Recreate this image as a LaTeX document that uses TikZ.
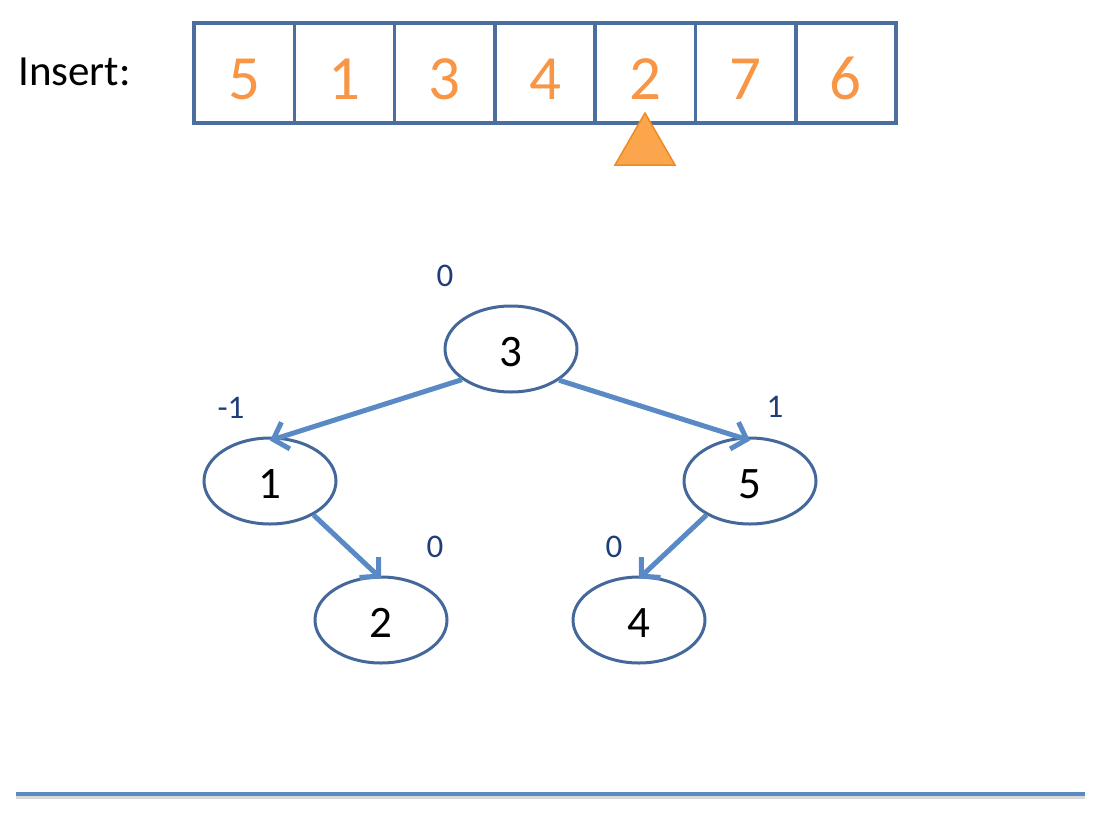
\documentclass[tikz,border=0pt]{standalone}
\usepackage{fontspec}
\setmainfont{Carlito}
\usetikzlibrary{arrows.meta,shapes.geometric}
\definecolor{boxblue}{HTML}{4A6E9E}
\definecolor{nodeblue}{HTML}{45689A}
\definecolor{edgeblue}{HTML}{5A8AC6}
\definecolor{numorange}{HTML}{F79646}
\definecolor{trifill}{HTML}{FBA54C}
\definecolor{triline}{HTML}{EE8A22}
\definecolor{balblue}{HTML}{1F3E79}
\begin{document}
\begin{tikzpicture}[x=1pt,y=-1pt,
  cell/.style={draw=boxblue,line width=3.5pt,minimum width=100.3pt,minimum height=100pt,inner sep=0pt,
    text=numorange,font=\fontsize{63}{63}\selectfont,text height=52pt,text depth=0pt},
  tnode/.style={draw=nodeblue,line width=3pt,ellipse,minimum width=132pt,minimum height=86pt,inner sep=0pt,
    font=\fontsize{45}{45}\selectfont,text height=34pt,text depth=0pt},
  bal/.style={text=balblue,font=\fontsize{33}{33}\selectfont,inner sep=0pt},
  edge/.style={draw=edgeblue,line width=5pt,-{Straight Barb[length=13pt,width=28pt,line width=5pt]}}
]
\useasboundingbox (0,0) rectangle (1119,828);
\node[font=\fontsize{43}{43}\selectfont,anchor=base west,inner sep=0pt] (ins) at (18,85) {Insert:};
\foreach \v [count=\i] in {5,1,3,4,2,7,6} {
  \node[cell] (c\i) at ({194+100.3*(\i-0.5)},73) {\v};
}
\draw[fill=trifill,draw=triline,line width=1.5pt,line join=miter] (645,113) -- (675,165) -- (615,165) -- cycle;

\node[tnode] (n3) at (511,349) {3};
\node[tnode] (n1) at (270,481) {1};
\node[tnode] (n5) at (750,481) {5};
\node[tnode] (n2) at (381,620) {2};
\node[tnode] (n4) at (639,620) {4};

\node[bal] (b3) at (445,276) {0};
\node[bal] (b1) at (231,408) {-1};
\node[bal] (b5) at (775,407) {1};
\node[bal] (b2) at (435,547) {0};
\node[bal] (b4) at (614,547) {0};

\draw[edge] (n3.212) -- ([yshift=-4pt]n1.north);
\draw[edge] (n3.327) -- ([yshift=-4pt]n5.north);
\draw[edge] (n1.322) -- ([yshift=-3pt]n2.north);
\draw[edge] (n5.218) -- ([yshift=-3pt]n4.north);

\coordinate (l1) at (16,794);
\coordinate (l2) at (1085,794);
\draw[black!25,line width=3pt,opacity=0.6] ([yshift=-3pt]l1) -- ([yshift=-3pt]l2);
\draw[edgeblue,line width=3.5pt] (l1) -- (l2);
\end{tikzpicture}
\end{document}
